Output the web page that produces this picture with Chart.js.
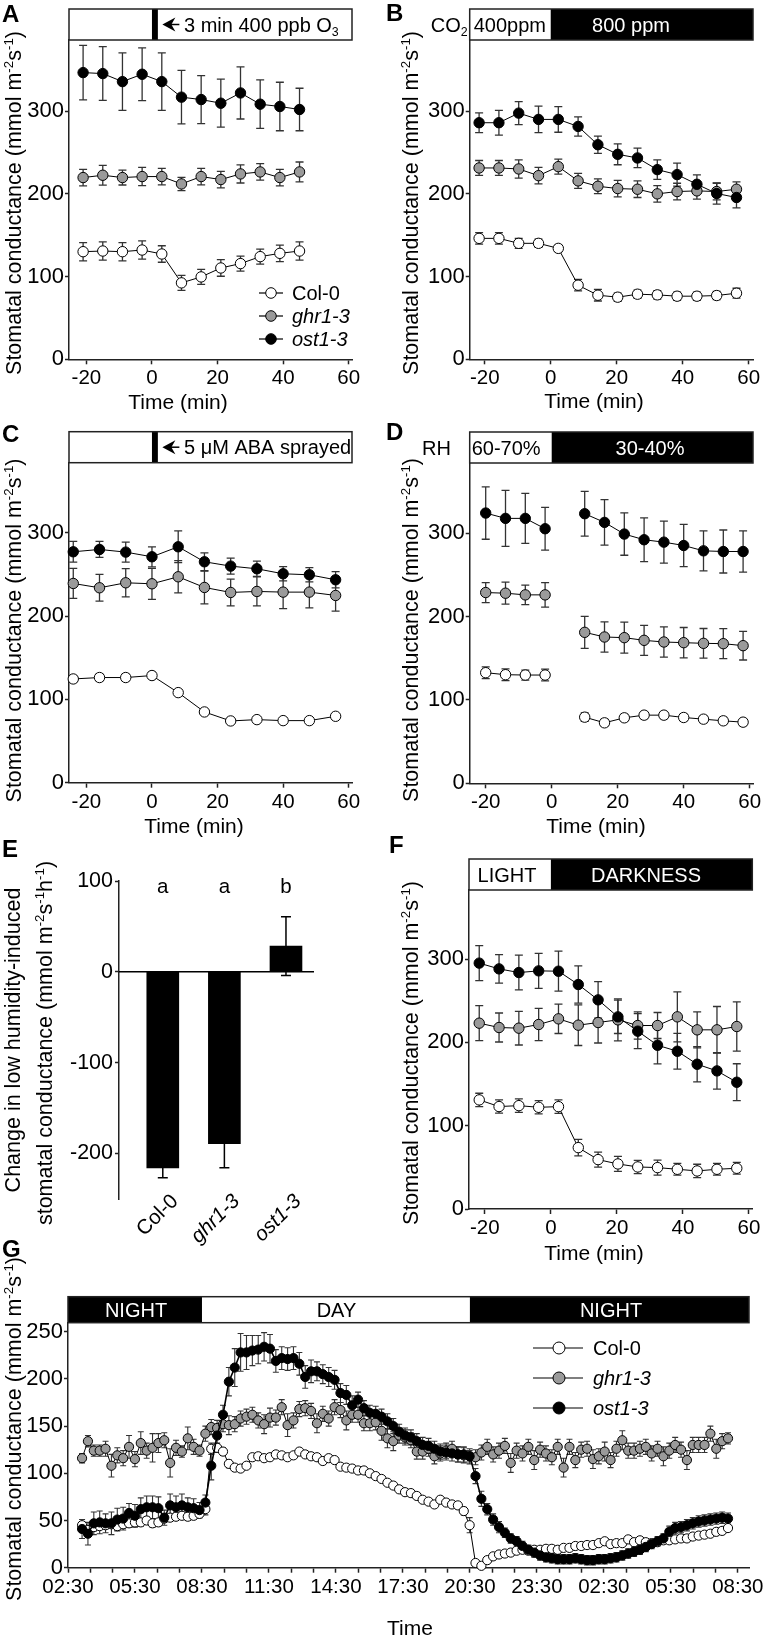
<!DOCTYPE html>
<html><head><meta charset="utf-8">
<script src="https://cdn.jsdelivr.net/npm/chart.js@4.4.1/dist/chart.umd.min.js"></script>
<style>
html,body{margin:0;padding:0;background:#fff;}
#wrap{position:relative;width:767px;height:1636px;overflow:hidden;background:#fff;}
canvas{position:absolute;left:0;top:0;}
</style></head><body><div id="wrap">
<canvas id="cA" width="767" height="1636"></canvas>
<canvas id="cB" width="767" height="1636"></canvas>
<canvas id="cC" width="767" height="1636"></canvas>
<canvas id="cD" width="767" height="1636"></canvas>
<canvas id="cE" width="767" height="1636"></canvas>
<canvas id="cF" width="767" height="1636"></canvas>
<canvas id="cG" width="767" height="1636"></canvas>
</div>
<script>
// ---------------- DATA ----------------
const seriesNames = ['Col-0','ghr1-3','ost1-3'];
const seriesItalic = [false,true,true];
const seriesFill = ['#ffffff','#9a9a9a','#000000'];
const minTicks = [-20,0,20,40,60];
const gsTicks = [0,100,200,300];

// Panel A: ozone pulse
const timeA = [-21,-15,-9,-3,3,9,15,21,27,33,39,45];
const colA = [130.1,130.9,130.1,132.1,127.3,92.4,99.6,110.4,115.7,124.1,128.1,130.9];
const colAErr = [11,11,11,11,10,9,9,10,9,9,10,11];
const ghrA = [219.7,222.5,219.7,220.9,220.9,212,220.9,217.3,224.1,226.5,219.7,226.5];
const ghrAErr = [10,12,9,11,10,8,10,10,11,10,10,12];
const ostA = [346.6,345.4,335.7,344.6,335.7,316.9,314,309.6,322,308.4,305.6,302];
const ostAErr = [33,32.5,34.7,32,34.7,32.3,29,29,31.5,29.3,29.3,25.7];

// Panel B: CO2
const timeB = [-21.7,-15.7,-9.7,-3.7,2.3,8.3,14.3,20.3,26.3,32.3,38.3,44.3,50.3,56.3];
const colB = [146.2,146.2,140.2,140.2,134.1,89.6,77.5,75.1,78.7,77.9,76.3,76.3,77.1,79.9];
const colBErr = [7,7,6,5,4,7,7,5,5,5,5,5,5,6];
const ghrB = [231.3,231.3,230.1,222,232.9,215.7,209.2,206.4,205.6,200,202.8,203.6,202.8,205.6];
const ghrBErr = [9,9,11,10,9,9,9,10,10,10,10,10,10,9];
const ostB = [286,286,297.6,290,290,281.5,259.4,247.8,243.4,229.3,223.3,211.6,200.4,195.6];
const ostBErr = [12,15,14,16,15.5,11.6,10.4,12.6,11.8,11.8,13.9,11.4,12.8,12.6];

// Panel C: ABA
const timeC = [-24,-16,-8,0,8,16,24,32,40,48,56];
const colC = [124.5,126.2,126.2,128.6,108.1,84.9,74.1,75.7,74.5,74.5,79.7];
const colCErr = [4,4,4,4,3,3,3,3,3,3,3];
const ghrC = [239.1,233.9,239.9,238.7,247.1,234.3,228.3,229.5,228.7,228.7,224.7];
const ghrCErr = [18,16,17,18.6,19.4,19.6,16,17.4,19.8,18.8,18.8];
const ostC = [277.1,279.9,276.7,271.1,283.1,265.1,259.9,256.7,250.7,249.5,243.5];
const ostCErr = [12.4,9.6,12,12,19,10.6,9.6,9.2,8.6,8.6,9.8];

// Panel D: RH (null = no measurement during the change)
const timeD = [-20,-14,-8,-2,4,10,16,22,28,34,40,46,52,58];
const colD = [132.6,130.2,129.8,129.8,null,79.3,72.5,78.5,81.7,81.7,78.9,76.9,74.9,73.3];
const colDErr = [7,7,6,7,null,5,4,4,4,4,4,4,4,4];
const ghrD = [228.7,227.9,225.9,225.9,null,181,175.4,174.6,171.4,169.4,168.6,167.8,167.4,165];
const ghrDErr = [12,13.2,11.8,14.6,null,19.2,18.2,18.6,18,18.2,18.2,17.8,18,17.2];
const ostD = [324,317.6,317.6,305.2,null,323.2,312.8,298.8,292,289.1,285.1,278.7,277.9,277.9];
const ostDErr = [31.4,33.6,30,25.6,null,26.8,27.2,25.4,26.2,25.2,25.4,24,25.8,24.8];

// Panel E: bar chart
const genotypesE = ['Col-0','ghr1-3','ost1-3'];
const changeE = [-215.7,-189.2,28.3];
const changeEErr = [11,26.5,32.3];
const lettersE = ['a','a','b'];
const ticksE = [100,0,-100,-200];

// Panel F: light/dark
const timeF = [-21.7,-15.7,-9.7,-3.7,2.3,8.3,14.3,20.3,26.3,32.3,38.3,44.3,50.3,56.3];
const colF = [131,123,124.1,122.1,122.9,73.7,59.3,54.1,50.5,49.7,47.7,45.7,47.7,48.9];
const colFErr = [8,8,8,8,8,10,9,9,8,9,7,8,7,7];
const ghrF = [223.1,217.9,217.1,221.5,228.3,220.7,223.9,227.1,220.3,220.3,230.7,215.1,215.1,219.1];
const ghrFErr = [21,17.4,20.2,19.4,17.6,24.4,24.6,25.2,16.4,15.6,30,21.6,28,29.6];
const ostF = [295.2,288.3,283.9,285.9,285.5,269.5,251.1,230.7,213.5,196.6,189.4,173.8,165.8,152.2];
const ostFErr = [21,17,20.8,21,24,22.4,22,20,21,22.4,21.4,21.2,21.8,22.2];

// Panel G: diurnal (hours after 02:30; first sample 03:08, one every ~15.8 min)
const gTickLabels = ['02:30','05:30','08:30','11:30','14:30','17:30','20:30','23:30','02:30','05:30','08:30'];
const gYTicks = [0,50,100,150,200,250];
const gCol0 = [45,40,43,44,45,46,44,46,47,48,
  48,50,47,48,52,53,54,55,54,55,
  57,62,126,127,123,110,106,105,108,117,
  118,116,117,120,119,117,119,123,120,118,
  117,113,116,114,107,106,105,103,103,100,
  97,94,90,87,83,80,79,76,72,70,
  67,72,69,67,66,60,45,5,2,8,
  12,14,15,16,18,19,18,19,19,20,
  20,19,21,21,23,23,24,24,26,28,
  25,26,26,30,27,29,27,26,27,29,
  29,30,31,31,33,34,35,36,38,39,42];
const gCol0Err = [4,4,4,3,4,4,4,4,4,4,
  4,4,4,4,4,4,4,4,4,4,
  4,6,6,5,4,4,3,3,3,3,
  3,3,3,3,3,3,3,3,3,3,
  3,3,3,3,3,3,3,3,3,3,
  3,3,3,3,3,3,3,3,3,3,
  3,3,3,3,3,4,8,3,2,3,
  3,3,3,3,3,3,3,3,3,3,
  3,3,3,3,3,3,3,3,3,3,
  3,3,3,3,3,3,3,3,3,3,
  3,3,3,3,3,3,3,3,3,3,3];
const gGhr = [116,134,124,124,126,108,119,116,128,115,
  132,124,127,132,135,111,127,123,137,128,
  124,142,149,148,152,151,152,158,160,162,
  156,152,159,159,170,151,156,168,169,166,
  153,163,158,170,167,156,162,162,153,153,
  154,145,137,134,140,138,135,123,123,126,
  118,121,124,126,120,119,118,117,122,128,
  120,124,129,111,124,121,128,114,125,121,
  117,128,106,128,114,125,126,115,118,123,
  114,126,135,124,124,126,128,121,126,118,
  124,130,125,114,130,130,130,142,126,134,137];
const gGhrErr = [5,6,6,6,8,12,8,8,12,8,
  12,8,15,10,8,15,8,6,12,8,
  6,8,8,8,8,10,8,8,8,8,
  8,10,10,8,8,12,8,8,8,8,
  10,8,8,8,8,10,8,8,8,8,
  8,10,10,10,8,8,8,8,8,8,
  8,8,8,8,8,8,8,8,8,8,
  8,8,8,10,8,8,8,10,8,8,
  8,8,10,8,8,8,8,10,8,10,
  8,8,10,8,8,8,8,8,8,10,
  8,8,8,10,8,8,8,8,10,8,6];
const gOst = [41,36,47,48,47,47,51,52,58,55,
  62,64,64,63,53,66,64,66,64,63,
  61,69,108,140,162,197,212,228,228,230,
  231,234,232,219,222,221,222,216,202,208,
  208,205,202,199,185,183,172,178,169,164,
  163,160,155,150,144,140,138,134,130,129,
  126,123,122,121,120,120,118,97,73,62,
  51,43,37,31,28,23,19,16,13,11,
  10,9,9,9,10,9,8,8,9,9,
  10,11,13,15,17,19,22,25,28,31,
  38,42,43,45,47,49,50,51,52,53,52];
const gOstErr = [10,12,12,12,10,12,12,12,10,12,
  12,12,12,12,8,12,12,12,10,10,
  8,8,15,12,10,15,20,20,18,16,
  15,15,15,12,12,12,12,12,12,12,
  10,10,10,10,10,10,10,8,8,8,
  8,8,8,8,8,8,8,8,8,8,
  8,8,8,8,8,8,6,8,8,6,
  6,6,5,5,5,5,5,5,5,5,
  5,5,5,5,5,5,5,5,5,5,
  5,5,5,5,5,5,5,5,5,5,
  6,6,6,6,6,6,6,6,6,6,6];
const gStart = 0.63, gStep = 0.263;
const gTimes = gCol0.map((_, i) => +(gStart + i * gStep).toFixed(3));

// ---------------- HELPERS ----------------
const FF = '"Liberation Sans", Arial, Helvetica, sans-serif';
const W = 767, H = 1636;
const YW = 60, XH = 45;   // fixed axis box sizes
Chart.defaults.font.family = FF;

function pad(a, noX){ return {left:a.l - YW, top:a.t, right:W - a.r, bottom:H - a.b - (noX ? 0 : XH)}; }

function scale(min, max, vals, o){
  o = o || {};
  return { type:'linear', min:min, max:max, offset:false,
    afterBuildTicks: s => { s.ticks = vals.map(v => ({value:v})); },
    afterFit: s => { if (s.isHorizontal()) s.height = XH; else s.width = YW; },
    grid:{ drawOnChartArea:false, drawTicks:true, tickLength:o.tl||5, tickColor:'#222', tickWidth:1.5, offset:false },
    border:{ display:true, color:'#222', width:1.5 },
    ticks:{ color:'#000', font:{family:FF, size:(o.fs||20.5)}, padding:(o.pad==null?2:o.pad), maxRotation:0, minRotation:0, autoSkip:false,
      callback: o.cb || (v => String(v)) }
  };
}

function xy(xs, ys){ return xs.map((x,i) => ({x:x, y:ys[i]})); }

function ds(idx, xs, ys, err, o){
  o = o || {};
  return { label:seriesNames[idx], data:xy(xs,ys), err:err,
    backgroundColor:seriesFill[idx], pointBackgroundColor:seriesFill[idx], pointBorderColor:'#000',
    pointBorderWidth:1, pointRadius:o.r||5.2, borderColor:'#000', borderWidth:o.lw||1,
    tension:0, spanGaps:false, fill:false, clip:false, capW:o.cap||4, errColor:'#333', errWidth:o.ew||1.3 };
}

const errPlugin = {
  id:'errbars',
  beforeDatasetsDraw(chart){
    const ctx = chart.ctx, xs = chart.scales.x, ys = chart.scales.y;
    chart.data.datasets.forEach(d => {
      if (!d.err) return;
      ctx.save();
      ctx.strokeStyle = d.errColor || '#333';
      ctx.lineWidth = d.errWidth || 1.3;
      d.data.forEach((p,i) => {
        const e = d.err[i];
        if (p.y == null || e == null) return;
        const px = xs.getPixelForValue(p.x);
        const y1 = ys.getPixelForValue(p.y + e), y2 = ys.getPixelForValue(p.y - e);
        const c = d.capW || 4;
        ctx.beginPath();
        ctx.moveTo(px, y1); ctx.lineTo(px, y2);
        ctx.moveTo(px-c, y1); ctx.lineTo(px+c, y1);
        ctx.moveTo(px-c, y2); ctx.lineTo(px+c, y2);
        ctx.stroke();
      });
      ctx.restore();
    });
  }
};

function txt(ctx, segs, x, yc, size, o){
  o = o || {};
  if (typeof segs === 'string') segs = [{t:segs, it:o.it, b:o.b}];
  ctx.save();
  ctx.translate(x, yc);
  if (o.rot) ctx.rotate(o.rot);
  const fs = s => (s.sup || s.sub) ? size*0.62 : size;
  const f = s => (s.it ? 'italic ' : '') + (s.b ? 'bold ' : '') + fs(s) + 'px ' + FF;
  let w = 0;
  segs.forEach(s => { ctx.font = f(s); w += ctx.measureText(s.t).width; });
  let cx = o.align === 'left' ? 0 : (o.align === 'right' ? -w : -w/2);
  ctx.fillStyle = o.color || '#000';
  ctx.textBaseline = 'alphabetic'; ctx.textAlign = 'left';
  const base = size * 0.358;
  segs.forEach(s => {
    ctx.font = f(s);
    const dy = s.sup ? -size*0.38 : (s.sub ? size*0.22 : 0);
    ctx.fillText(s.t, cx, base + dy);
    cx += ctx.measureText(s.t).width;
  });
  ctx.restore();
}

const yTitleSegs = [{t:'Stomatal conductance (mmol m'},{t:'-2',sup:1},{t:'s'},{t:'-1',sup:1},{t:')'}];
function yTitle(ctx, x, yc){ txt(ctx, yTitleSegs, x, yc, 21.5, {rot:-Math.PI/2}); }
function xTitle(ctx, s, x, yc){ txt(ctx, s, x, yc, 21); }
function letter(ctx, s, x, baseY){ txt(ctx, s, x, baseY - 24*0.358, 24, {b:1, align:'left'}); }

function header(chart, h, blocks){
  const ctx = chart.ctx, a = chart.chartArea, xs = chart.scales.x;
  const T = a.top - h;
  ctx.save();
  ctx.fillStyle = '#fff'; ctx.fillRect(a.left, T, a.right - a.left, h);
  ctx.fillStyle = '#000';
  blocks.forEach(b => {
    const x0 = b[0] == null ? a.left : xs.getPixelForValue(b[0]);
    const x1 = b[1] == null ? a.right : xs.getPixelForValue(b[1]);
    ctx.fillRect(x0, T, x1 - x0, h);
  });
  ctx.strokeStyle = '#222'; ctx.lineWidth = 1.5;
  ctx.strokeRect(a.left, T, a.right - a.left, h);
  ctx.restore();
  return T + h/2;
}

function arrowHead(ctx, tip, y){
  ctx.save(); ctx.fillStyle = '#000';
  ctx.beginPath(); ctx.moveTo(tip, y); ctx.lineTo(tip+13, y-7); ctx.lineTo(tip+9, y); ctx.lineTo(tip+13, y+7); ctx.closePath(); ctx.fill();
  ctx.strokeStyle = '#000'; ctx.lineWidth = 1.5;
  ctx.beginPath(); ctx.moveTo(tip+6, y); ctx.lineTo(tip+17, y); ctx.stroke();
  ctx.restore();
}

function legend(ctx, x0, x1, xm, xt, ys, r){
  seriesNames.forEach((n,i) => {
    const y = ys[i];
    ctx.save();
    ctx.strokeStyle = '#000'; ctx.lineWidth = 1.2;
    ctx.beginPath(); ctx.moveTo(x0, y); ctx.lineTo(x1, y); ctx.stroke();
    ctx.beginPath(); ctx.arc(xm, y, r, 0, Math.PI*2);
    ctx.fillStyle = seriesFill[i]; ctx.fill(); ctx.lineWidth = 1; ctx.stroke();
    ctx.restore();
    txt(ctx, n, xt, y, 20, {align:'left', it:seriesItalic[i]});
  });
}

function lineChart(id, area, xr, yr, datasets, deco){
  return new Chart(document.getElementById(id), {
    type:'line',
    data:{ datasets:datasets },
    options:{ responsive:false, animation:false, events:[],
      layout:{ padding:pad(area) },
      plugins:{ legend:{display:false}, tooltip:{enabled:false} },
      elements:{ line:{ tension:0 } },
      scales:{ x:scale(xr.min, xr.max, xr.ticks, xr.o), y:scale(yr.min, yr.max, yr.ticks, yr.o) } },
    plugins:[errPlugin, {id:'deco_'+id, afterDraw:deco}]
  });
}

const yOpt = {tl:4, pad:1, fs:22};

// ---------------- PANEL A ----------------
lineChart('cA', {l:69, t:40, r:352, b:359.3},
  {min:-25.3, max:61, ticks:minTicks}, {min:0, max:386, ticks:gsTicks, o:yOpt},
  [ds(2,timeA,ostA,ostAErr), ds(1,timeA,ghrA,ghrAErr), ds(0,timeA,colA,colAErr)],
  chart => {
    const ctx = chart.ctx;
    const yc = header(chart, 31, [[0,1.8]]);
    arrowHead(ctx, chart.scales.x.getPixelForValue(1.8) + 4.5, yc);
    txt(ctx, [{t:'3 min 400 ppb O'},{t:'3',sub:1}], 184, yc, 20, {align:'left'});
    letter(ctx, 'A', 2, 22);
    yTitle(ctx, 13, 203);
    xTitle(ctx, 'Time (min)', 178, 401);
    legend(ctx, 259, 283, 271, 292, [293,316,339], 5.3);
  });

// ---------------- PANEL B ----------------
lineChart('cB', {l:469.7, t:40, r:753, b:359.3},
  {min:-24.55, max:61.3, ticks:minTicks}, {min:0, max:386, ticks:gsTicks, o:yOpt},
  [ds(2,timeB,ostB,ostBErr), ds(1,timeB,ghrB,ghrBErr), ds(0,timeB,colB,colBErr)],
  chart => {
    const ctx = chart.ctx, a = chart.chartArea;
    const yc = header(chart, 31, [[0,null]]);
    txt(ctx, [{t:'CO'},{t:'2',sub:1}], a.left - 2, yc, 20, {align:'right'});
    txt(ctx, '400ppm', a.left + 4, yc, 20, {align:'left'});
    txt(ctx, '800 ppm', 631, yc, 20, {color:'#fff'});
    letter(ctx, 'B', 386, 21);
    yTitle(ctx, 410.5, 203);
    xTitle(ctx, 'Time (min)', 594, 400);
  });

// ---------------- PANEL C ----------------
lineChart('cC', {l:69, t:462.7, r:352, b:782.7},
  {min:-25.3, max:61, ticks:minTicks}, {min:0, max:384, ticks:gsTicks, o:yOpt},
  [ds(2,timeC,ostC,ostCErr), ds(1,timeC,ghrC,ghrCErr), ds(0,timeC,colC,colCErr)],
  chart => {
    const ctx = chart.ctx;
    const yc = header(chart, 31, [[0,1.8]]);
    arrowHead(ctx, chart.scales.x.getPixelForValue(1.8) + 4.5, yc);
    txt(ctx, '5 μM ABA sprayed', 184, yc, 20, {align:'left'});
    letter(ctx, 'C', 2, 441.5);
    yTitle(ctx, 13, 630.5);
    xTitle(ctx, 'Time (min)', 194, 825);
  });

// ---------------- PANEL D ----------------
lineChart('cD', {l:469.7, t:463, r:753, b:783.3},
  {min:-24.85, max:61, ticks:minTicks}, {min:0, max:384, ticks:gsTicks, o:yOpt},
  [ds(2,timeD,ostD,ostDErr), ds(1,timeD,ghrD,ghrDErr), ds(0,timeD,colD,colDErr)],
  chart => {
    const ctx = chart.ctx, a = chart.chartArea;
    const yc = header(chart, 31, [[0,null]]);
    txt(ctx, 'RH', 451, yc, 20, {align:'right'});
    txt(ctx, '60-70%', a.left + 2, yc, 20, {align:'left'});
    txt(ctx, '30-40%', 650, yc, 20, {color:'#fff'});
    letter(ctx, 'D', 386, 440);
    yTitle(ctx, 410.5, 630);
    xTitle(ctx, 'Time (min)', 596, 825);
  });

// ---------------- PANEL E ----------------
new Chart(document.getElementById('cE'), {
  type:'bar',
  data:{ datasets:[{ label:'change', data:genotypesE.map((g,i) => ({x:i+1, y:changeE[i]})), err:changeEErr,
    backgroundColor:'#000', borderWidth:0, barThickness:32, capW:5, errColor:'#000', errWidth:1.5 }] },
  options:{ responsive:false, animation:false, events:[],
    layout:{ padding:pad({l:119, t:881, r:314, b:1199}, true) },
    plugins:{ legend:{display:false}, tooltip:{enabled:false} },
    scales:{ x:{ type:'linear', min:0.289, max:3.455, display:false, offset:false, grid:{offset:false} },
             y:scale(-250, 100, ticksE, {tl:4, pad:2, fs:21.5}) } },
  plugins:[errPlugin, {id:'decoE', afterDraw: chart => {
    const ctx = chart.ctx, a = chart.chartArea, xs = chart.scales.x, ys = chart.scales.y;
    ctx.save(); ctx.strokeStyle = '#000'; ctx.lineWidth = 1.5;
    const y0 = ys.getPixelForValue(0);
    ctx.beginPath(); ctx.moveTo(a.left, y0); ctx.lineTo(a.right, y0); ctx.stroke(); ctx.restore();
    lettersE.forEach((l,i) => txt(ctx, l, xs.getPixelForValue(i+1), 885.5, 20.5));
    genotypesE.forEach((g,i) => txt(ctx, g, xs.getPixelForValue(i+1) + 11, 1197, 20.5,
      {align:'right', rot:-Math.PI/4, it:seriesItalic[i]}));
    letter(ctx, 'E', 2, 857);
    txt(ctx, 'Change in low humidity-induced', 12.5, 1040, 21.5, {rot:-Math.PI/2});
    txt(ctx, [{t:'stomatal conductance (mmol m'},{t:'-2',sup:1},{t:'s'},{t:'-1',sup:1},{t:'h'},{t:'-1',sup:1},{t:')'}],
      44, 1043, 21.5, {rot:-Math.PI/2});
  }}]
});

// ---------------- PANEL F ----------------
lineChart('cF', {l:469, t:890, r:752.3, b:1209},
  {min:-24.8, max:61, ticks:minTicks}, {min:0, max:383, ticks:gsTicks, o:yOpt},
  [ds(2,timeF,ostF,ostFErr), ds(1,timeF,ghrF,ghrFErr), ds(0,timeF,colF,colFErr)],
  chart => {
    const ctx = chart.ctx;
    const yc = header(chart, 31, [[0,null]]);
    txt(ctx, 'LIGHT', 507, yc, 20);
    txt(ctx, 'DARKNESS', 646, yc, 20, {color:'#fff'});
    letter(ctx, 'F', 389, 853);
    yTitle(ctx, 410.5, 1053);
    xTitle(ctx, 'Time (min)', 594, 1252);
  });

// ---------------- PANEL G ----------------
const gHourTicks = gTickLabels.flatMap((_, i) => i < gTickLabels.length - 1 ? [3*i, 3*i+1, 3*i+2] : [3*i]);
lineChart('cG', {l:68, t:1322.7, r:749, b:1567.7},
  {min:0, max:30.5, ticks:gHourTicks, o:{tl:5, pad:2, cb:(v) => (v % 3 === 0 ? gTickLabels[v/3] : '')}},
  {min:0, max:259.5, ticks:gYTicks, o:{tl:4, pad:1, fs:22}},
  [ds(2,gTimes,gOst,gOstErr,{r:4.6,cap:3,lw:1.6,ew:1.1}),
   ds(1,gTimes,gGhr,gGhrErr,{r:4.6,cap:3,ew:1.1}),
   ds(0,gTimes,gCol0,gCol0Err,{r:4.6,cap:3,ew:1.1})],
  chart => {
    const ctx = chart.ctx;
    const yc = header(chart, 26, [[null,6],[18,null]]);
    txt(ctx, 'NIGHT', 136, yc, 20, {color:'#fff'});
    txt(ctx, 'DAY', 336.5, yc, 20);
    txt(ctx, 'NIGHT', 611, yc, 20, {color:'#fff'});
    letter(ctx, 'G', 2, 1257);
    yTitle(ctx, 13, 1429);
    xTitle(ctx, 'Time', 410, 1627);
    legend(ctx, 533, 583, 559, 593, [1348,1378,1408], 6);
  });
</script>
</body></html>
